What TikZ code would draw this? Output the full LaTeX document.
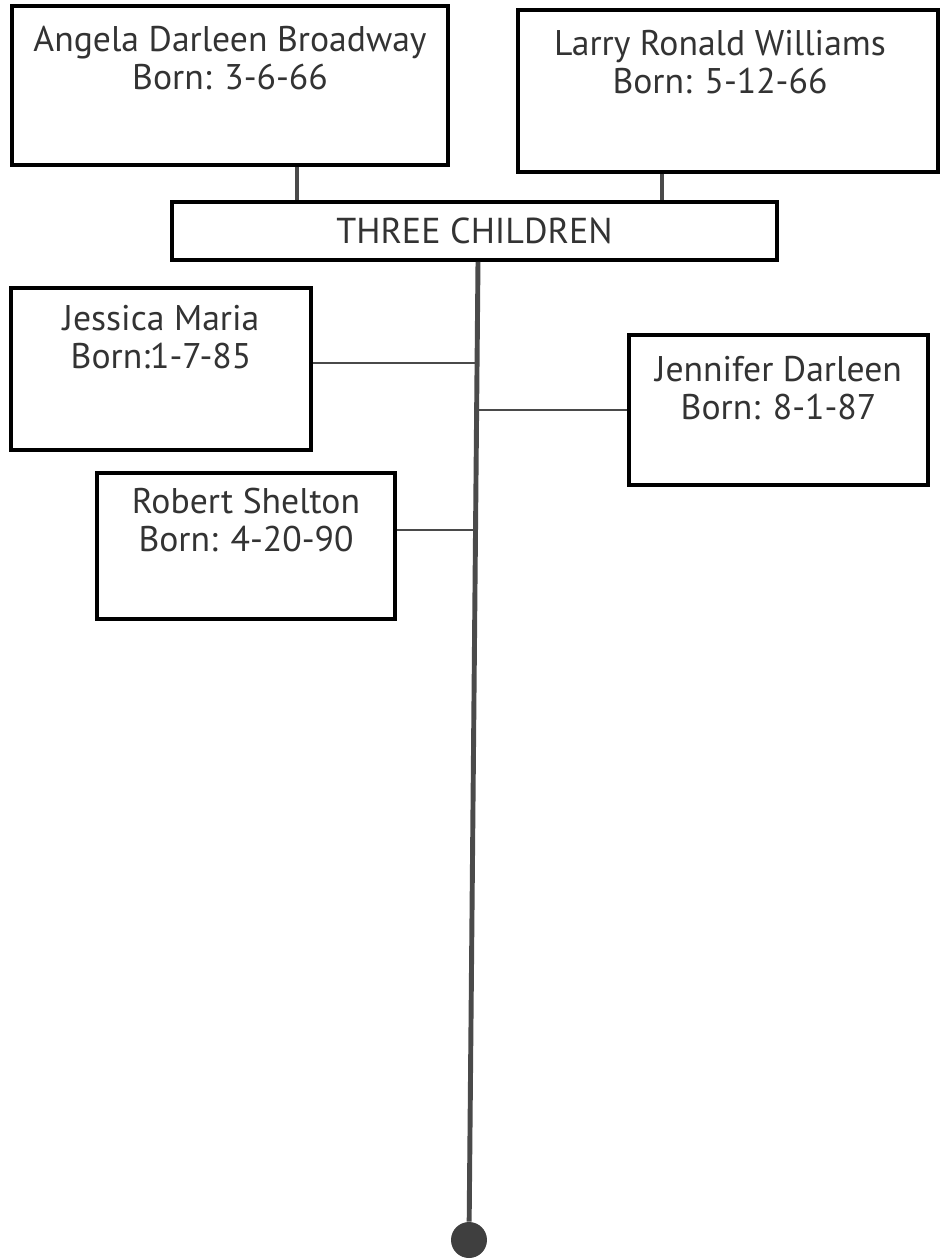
\documentclass[tikz,border=0pt]{standalone}
\usepackage{fontspec}
\setmainfont{PT Sans}
\usepackage{xcolor}
\usetikzlibrary{positioning,calc}
\definecolor{inkgray}{HTML}{333333}
\definecolor{linegray}{HTML}{4A4A4A}

\begin{document}
\begin{tikzpicture}[x=0.02cm,y=-0.02cm,
  person/.style={draw=black,line width=2.2pt,fill=white,inner sep=0pt},
  names/.style={anchor=north,align=center,inner sep=0pt,text=inkgray,
    font=\fontsize{20.3}{21.5}\selectfont},
  drop/.style={draw=linegray,line width=2.4pt},
  trunk/.style={draw=linegray,line width=2.8pt},
  branch/.style={draw=linegray,line width=1.1pt},
  dot/.style={circle,fill=linegray!85!black,minimum size=0.72cm,inner sep=0pt}]
\useasboundingbox (0,0) rectangle (940,1259);

% parents
\node[person,minimum width=8.72cm,minimum height=3.18cm] (angela) at (230,85.5) {};
\node[names,below=0.44cm of angela.north] (angelaT) {Angela Darleen Broadway\\Born: 3-6-66};
\node[person,minimum width=8.4cm,minimum height=3.24cm] (larry) at (728,91) {};
\node[names,below=0.44cm of larry.north,xshift=-0.16cm] (larryT) {Larry Ronald Williams\\Born: 5-12-66};

\node[person,minimum width=12.1cm,minimum height=1.16cm] (kids) at (474.5,231) {};
\node[text=inkgray,font=\fontsize{20.5}{22}\selectfont] (kidsT) at (kids.center) {THREE CHILDREN};

% children
\node[person,minimum width=6cm,minimum height=3.24cm] (jessica) at (161,369) {};
\node[names,below=0.38cm of jessica.north] (jessicaT) {Jessica Maria\\Born:1-7-85};
\node[person,minimum width=5.98cm,minimum height=3cm] (jennifer) at (778.5,410) {};
\node[names,below=0.46cm of jennifer.north] (jenniferT) {Jennifer Darleen\\Born: 8-1-87};
\node[person,minimum width=5.96cm,minimum height=2.92cm] (robert) at (246,546) {};
\node[names,below=0.34cm of robert.north] (robertT) {Robert Shelton\\Born: 4-20-90};

\node[dot] (root) at (469,1240) {};

\coordinate (ad) at (297,0);
\coordinate (ld) at (662,0);
\draw[drop] (angela.south -| ad) -- (kids.north -| ad);
\draw[drop] (larry.south -| ld) -- (kids.north -| ld);
\draw[trunk] ([xshift=0.07cm]kids.south) -- (root);

\draw[branch] ([yshift=0.12cm]jessica.east) -- ([yshift=0.12cm,xshift=0.05cm]jessica.east -| kids.south);
\draw[branch] (jennifer.west) -- ([xshift=0.05cm]jennifer.west -| kids.south);
\draw[branch] ([yshift=0.32cm]robert.east) -- ([yshift=0.32cm,xshift=0.04cm]robert.east -| kids.south);
\end{tikzpicture}
\end{document}
